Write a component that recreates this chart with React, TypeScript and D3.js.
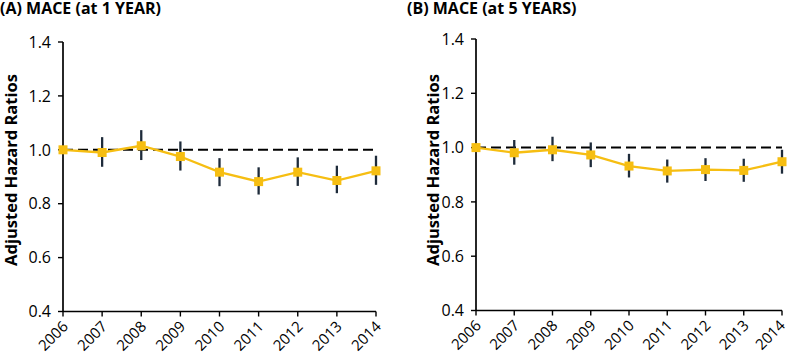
import React from "react";
import * as d3 from "d3";

const years = ["2006", "2007", "2008", "2009", "2010", "2011", "2012", "2013", "2014"];
const yTicks = [0.4, 0.6, 0.8, 1.0, 1.2, 1.4];

const hrA = [1.0, 0.99, 1.015, 0.975, 0.917, 0.882, 0.917, 0.886, 0.922];
const loA = [null, 0.937, 0.962, 0.923, 0.865, 0.834, 0.866, 0.839, 0.87];
const hiA = [null, 1.047, 1.073, 1.031, 0.969, 0.935, 0.972, 0.941, 0.978];

const hrB = [1.0, 0.981, 0.992, 0.973, 0.932, 0.914, 0.919, 0.916, 0.948];
const loB = [null, 0.937, 0.95, 0.928, 0.89, 0.871, 0.877, 0.874, 0.904];
const hiB = [null, 1.028, 1.04, 1.019, 0.977, 0.956, 0.961, 0.959, 0.992];

const FONT = "'Open Sans', 'Noto Sans', sans-serif";
const LINE = "#F6BE12";
const BAR = "#1E2B3A";

type PanelProps = {
  title: string;
  titleX: number;
  yTitleX: number;
  x0: number;
  x1: number;
  yTop: number;
  yBot: number;
  hr: number[];
  lo: (number | null)[];
  hi: (number | null)[];
};

function Panel({ title, titleX, yTitleX, x0, x1, yTop, yBot, hr, lo, hi }: PanelProps) {
  const x = d3.scalePoint<string>().domain(years).range([x0, x1]);
  const y = d3.scaleLinear().domain([0.4, 1.4]).range([yBot, yTop]);
  const line = d3
    .line<number>()
    .x((_, i) => x(years[i])!)
    .y((d) => y(d));
  return (
    <g>
      <text x={titleX} y={14} fontFamily={FONT} fontWeight={700} fontSize={16} fill="#000">
        {title}
      </text>
      <text
        transform={`translate(${yTitleX},170) rotate(-90)`}
        textAnchor="middle"
        fontFamily={FONT}
        fontWeight={700}
        fontSize={16.5}
        fill="#000"
      >
        Adjusted Hazard Ratios
      </text>
      {/* y axis */}
      <line x1={x0} x2={x0} y1={yTop} y2={yBot} stroke="#000" strokeWidth={1.7} />
      {yTicks.map((t) => (
        <g key={t}>
          <line x1={x0 - 5} x2={x0} y1={y(t)} y2={y(t)} stroke="#000" strokeWidth={1.4} />
          <text
            x={x0 - 12}
            y={y(t)}
            dy="0.36em"
            textAnchor="end"
            fontFamily={FONT}
            fontSize={16}
            fill="#000"
          >
            {t.toFixed(1)}
          </text>
        </g>
      ))}
      {/* x axis */}
      <line x1={x0} x2={x1} y1={yBot} y2={yBot} stroke="#000" strokeWidth={1.7} />
      {years.map((yr) => (
        <g key={yr}>
          <line x1={x(yr)} x2={x(yr)} y1={yBot} y2={yBot + 5} stroke="#000" strokeWidth={1.4} />
          <text
            transform={`translate(${Math.min(x(yr)! + 6, 786)},${yBot + 16}) rotate(-45)`}
            textAnchor="end"
            fontFamily={FONT}
            fontSize={15}
            fill="#000"
          >
            {yr}
          </text>
        </g>
      ))}
      {/* reference line */}
      <line
        x1={x0}
        x2={x1}
        y1={y(1)}
        y2={y(1)}
        stroke="#000"
        strokeWidth={2}
        strokeDasharray="10,5"
      />
      {/* error bars */}
      {hr.map((_, i) =>
        lo[i] != null && hi[i] != null ? (
          <line
            key={i}
            x1={x(years[i])}
            x2={x(years[i])}
            y1={y(lo[i] as number)}
            y2={y(hi[i] as number)}
            stroke={BAR}
            strokeWidth={2.3}
          />
        ) : null
      )}
      <path d={line(hr) || ""} fill="none" stroke={LINE} strokeWidth={2.3} />
      {hr.map((v, i) => (
        <rect
          key={i}
          x={x(years[i])! - 4.5}
          y={y(v) - 4.5}
          width={9}
          height={9}
          fill={LINE}
        />
      ))}
    </g>
  );
}

export default function App() {
  return (
    <svg
      width={787}
      height={357}
      style={{ position: "absolute", left: 0, top: 0, background: "#fff" }}
    >
      <rect width={787} height={357} fill="#fff" />
      <Panel
        title="(A) MACE (at 1 YEAR)"
        titleX={0}
        yTitleX={17}
        x0={63}
        x1={376}
        yTop={42}
        yBot={311.5}
        hr={hrA}
        lo={loA}
        hi={hiA}
      />
      <Panel
        title="(B) MACE (at 5 YEARS)"
        titleX={407}
        yTitleX={439}
        x0={476}
        x1={782}
        yTop={39}
        yBot={310.5}
        hr={hrB}
        lo={loB}
        hi={hiB}
      />
    </svg>
  );
}
